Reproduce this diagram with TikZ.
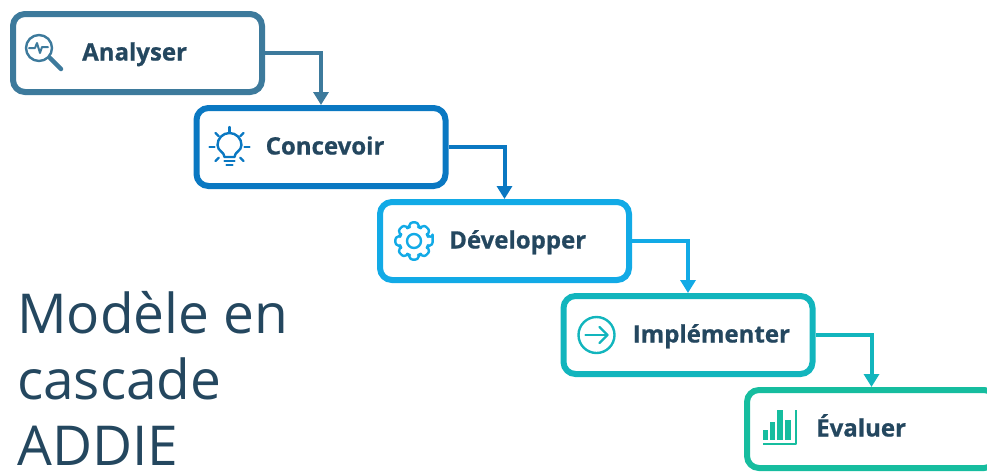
\documentclass[tikz,border=0pt]{standalone}
\usepackage{fontspec}
\setmainfont{Open Sans}[BoldFeatures={FakeBold=0.7}]
\usetikzlibrary{positioning,arrows.meta}

\definecolor{inkblue}{HTML}{24475F}
\definecolor{cAnalyser}{HTML}{3D7A9C}
\definecolor{cConcevoir}{HTML}{0A78C2}
\definecolor{cDevelopper}{HTML}{12AAE6}
\definecolor{cImplementer}{HTML}{12B5BD}
\definecolor{cEvaluer}{HTML}{16BD9F}

\tikzset{
  stepbox/.style={draw=#1, line width=6pt, rounded corners=12pt, minimum width=249pt, minimum height=78pt},
  steplabel/.style={anchor=base west, inner sep=0pt, text=inkblue, font=\bfseries\fontsize{24}{28}\selectfont},
  steplink/.style={draw=#1, line width=4pt, -{Triangle[width=15pt,length=13pt]}},
  iconline/.style={draw=#1, line width=2.4pt, line cap=round, line join=round}
}

\begin{document}
\begin{tikzpicture}[x=1pt,y=-1pt]
\useasboundingbox (0,0) rectangle (987,472);

\node    (analyser)      [stepbox=cAnalyser, anchor=north west] at (10,11) {};
\node    (concevoir)     [stepbox=cConcevoir,   below right=10pt and -71.5pt of analyser]    {};
\node    (developper)    [stepbox=cDevelopper,  below right=10pt and -71.5pt of concevoir]   {};
\node    (implementer)   [stepbox=cImplementer, below right=10pt and -71.5pt of developper]  {};
\node    (evaluer)       [stepbox=cEvaluer,     below right=10pt and -71.5pt of implementer] {};

\node    (analyser-t)    [steplabel] at ([xshift=72pt,yshift=-7.5pt]analyser.west)    {Analyser};
\node    (concevoir-t)   [steplabel] at ([xshift=72pt,yshift=-7.5pt]concevoir.west)   {Concevoir};
\node    (developper-t)  [steplabel] at ([xshift=72pt,yshift=-7.5pt]developper.west)  {Développer};
\node    (implementer-t) [steplabel] at ([xshift=72pt,yshift=-7.5pt]implementer.west) {Implémenter};
\node    (evaluer-t)     [steplabel] at ([xshift=72pt,yshift=-7.5pt]evaluer.west)     {Évaluer};

\draw    [steplink=cAnalyser]    (analyser)    -| (concevoir);
\draw    [steplink=cConcevoir]   (concevoir)   -| (developper);
\draw    [steplink=cDevelopper]  (developper)  -| (implementer);
\draw    [steplink=cImplementer] (implementer) -| (evaluer);

\node    (title) [anchor=north west, inner sep=0pt, align=left, text=inkblue,
                  font=\fontsize{55}{66}\selectfont] at (17,291)
                 {Modèle en\\cascade\\ADDIE};

% icons
\begin{scope}[shift={([xshift=29pt]analyser.west)}, iconline=cAnalyser]
  \draw (0,-5) circle (13);
  \draw [line width=4.5pt] (11,5) -- (22,16);
  \draw [line width=2pt] (-10,-5) -- (-4,-5) -- (-2,-10) -- (1,0) -- (3,-6) -- (9,-6);
\end{scope}

\begin{scope}[shift={([xshift=36pt]concevoir.west)}, iconline=cConcevoir]
  \draw (-5,10) .. controls (-5,5) and (-12,4) .. (-12,-2) arc (180:360:12)
        .. controls (12,4) and (5,5) .. (5,10) -- cycle;
  \draw (-5,14) -- (5,14);
  \draw (-3,18) -- (3,18);
  \foreach \a in {180,225,270,315,0,45,135}
    \draw (\a:15) -- (\a:20);
\end{scope}

\begin{scope}[shift={([xshift=37pt]developper.west)}, iconline=cDevelopper]
  \draw [rounded corners=2.5pt] (-12:19)
    \foreach \a in {0,45,...,315} {
      -- (\a-12:19) -- (\a+12:19) -- (\a+19:14.5) -- (\a+26:14.5)
    } -- cycle;
  \draw (0,0) circle (7);
\end{scope}

\begin{scope}[shift={([xshift=36pt]implementer.west)}, iconline=cImplementer]
  \draw (0,0) circle (18);
  \draw (-11,0) -- (11,0);
  \draw (3,-8) -- (11,0) -- (3,8);
\end{scope}

\begin{scope}[shift={([xshift=36pt]evaluer.west)}, iconline=cEvaluer]
  \fill [cEvaluer] (-17,1) rectangle (-12,11);
  \fill [cEvaluer] (-10,-7) rectangle (-5,11);
  \fill [cEvaluer] (-3,-19) rectangle (3,11);
  \fill [cEvaluer] (5,-9) rectangle (11,11);
  \draw [line cap=butt] (16,-19) -- (16,15) -- (-17,15);
\end{scope}
\end{tikzpicture}
\end{document}
